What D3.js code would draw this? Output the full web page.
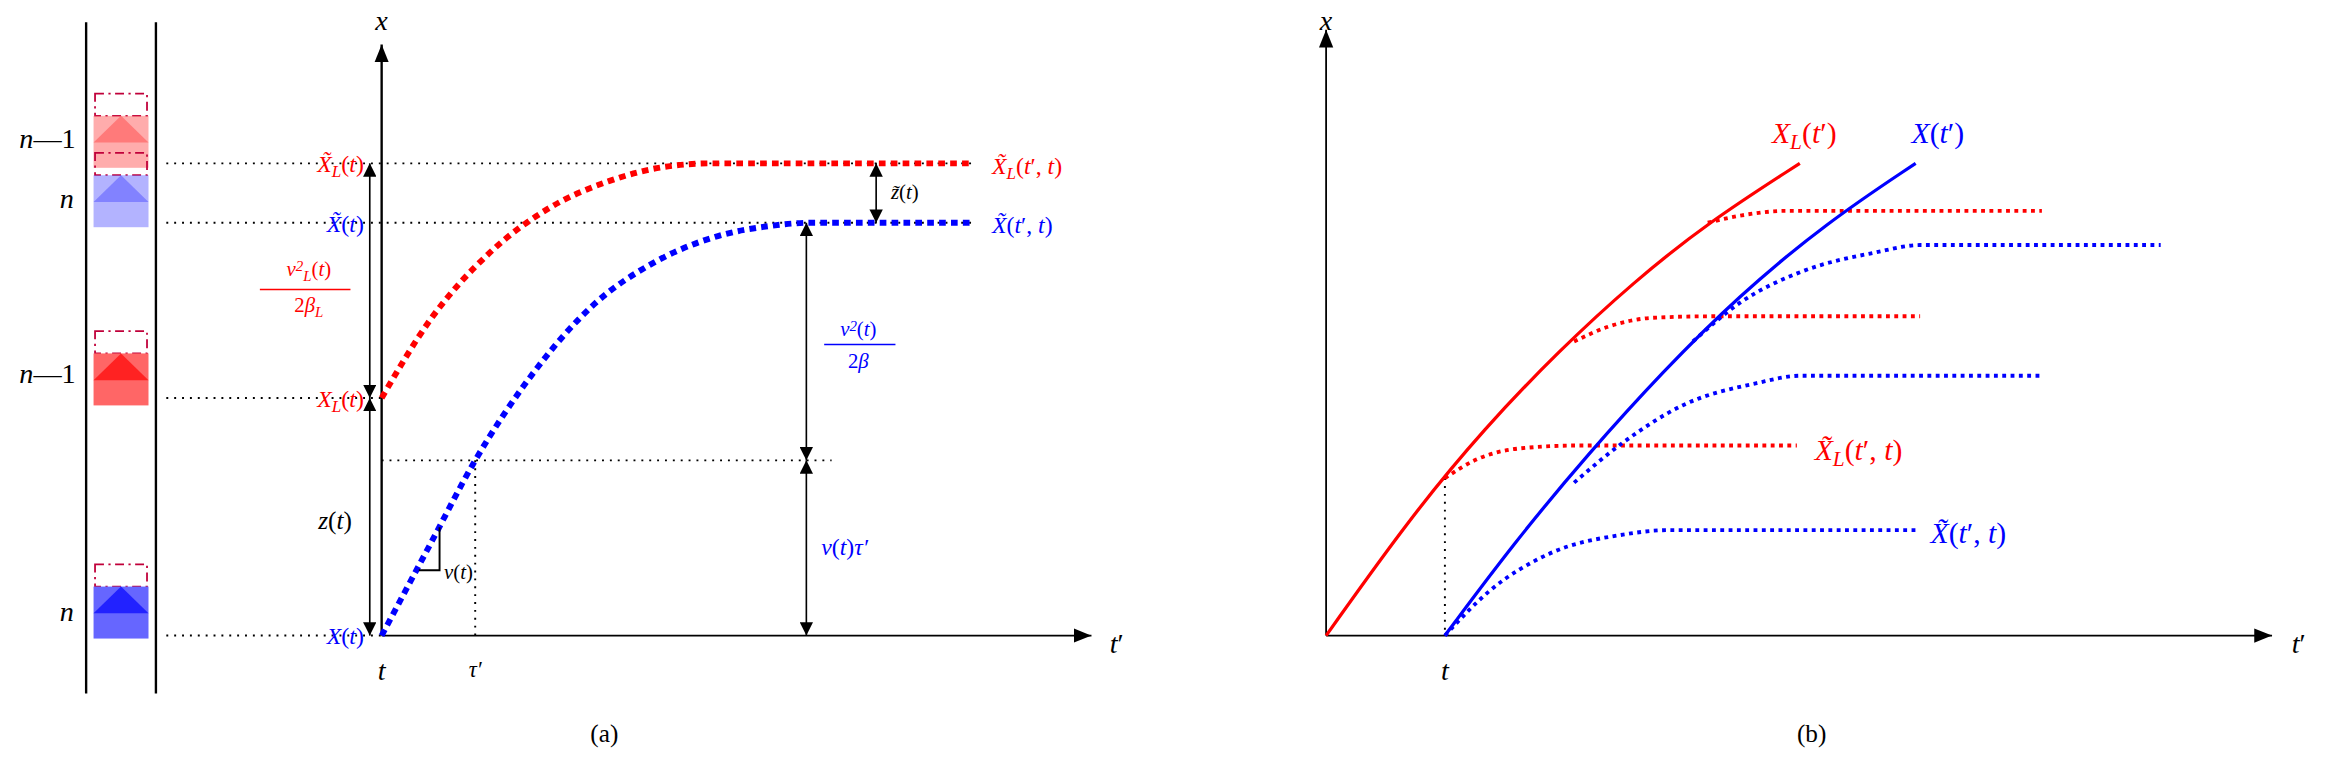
<!DOCTYPE html>
<html><head><meta charset="utf-8">
<script src="https://cdn.jsdelivr.net/npm/d3@7"></script>
<style>body{margin:0;background:#fff}</style>
</head><body><div id="chart"></div>
<script>
// panel (a): t' offsets and x offsets
const blueT = [0, 33, 63, 103, 143, 183, 223, 263, 288, 398];
const blueX = [0, 62, 118, 178, 223, 251, 268, 276, 278, 278];
const redT = [0, 33, 73, 113, 153, 193, 223, 398];
const redX = [160, 213, 258, 288, 306, 316, 318, 318];
const levels = { X: 0, tangent: 118, XL: 160, Xt: 278, XLt: 318 };
const tauT = 63;

// panel (b)
const redSolidT = [0, 57, 107, 157, 207, 257, 319];
const redSolidX = [0, 80, 140, 192, 238, 278, 318];
const blueSolidT = [80, 127, 177, 227, 277, 337, 397];
const blueSolidX = [0, 63, 123, 178, 228, 278, 318];
const redBranches = [
  { t: [80, 100, 130, 170, 317], x: [106, 118, 126, 128, 128] },
  { t: [167, 190, 220, 260, 400], x: [198, 208, 214, 215, 215] },
  { t: [257, 280, 310, 350, 482], x: [278, 283, 286, 286, 286] }
];
const blueBranches = [
  { t: [80, 110, 150, 200, 230, 397], x: [0, 30, 55, 68, 71, 71] },
  { t: [167, 200, 240, 290, 320, 482], x: [103, 130, 155, 170, 175, 175] },
  { t: [247, 280, 320, 370, 400, 562], x: [198, 225, 245, 258, 263, 263] }
];

const RED = '#ff0000', BLUE = '#0000ff';
const FONT = "'Liberation Serif', 'DejaVu Serif', serif";
const svg = d3.select('#chart').append('svg').attr('width', 2326).attr('height', 766);
const defs = svg.append('defs');
defs.append('marker').attr('id', 'arr').attr('viewBox', '0 0 10 10').attr('refX', 10).attr('refY', 5)
  .attr('markerWidth', 9).attr('markerHeight', 9).attr('markerUnits', 'userSpaceOnUse').attr('orient', 'auto-start-reverse')
  .append('path').attr('d', 'M0,0L10,5L0,10z').attr('fill', '#000');
defs.append('marker').attr('id', 'arrB').attr('viewBox', '0 0 10 10').attr('refX', 10).attr('refY', 5)
  .attr('markerWidth', 12).attr('markerHeight', 12).attr('markerUnits', 'userSpaceOnUse').attr('orient', 'auto')
  .append('path').attr('d', 'M0,1L10,5L0,9z').attr('fill', '#000');

const g = svg.append('g').attr('transform', 'scale(1.485)');

function txt(x, y, parts, color, size, anchor) {
  const t = g.append('text').attr('x', x).attr('y', y).attr('fill', color || '#000')
    .style('font-family', FONT)
    .attr('font-size', size || 17).attr('text-anchor', anchor || 'middle').attr('font-style', 'italic');
  parts.forEach(p => {
    const s = t.append('tspan').text(p[0]);
    if (p[1] === 'sub') s.attr('baseline-shift', '-30%').attr('font-size', (size || 17) * 0.72);
    if (p[1] === 'sup') s.attr('baseline-shift', '35%').attr('font-size', (size || 17) * 0.72);
    if (p[1] === 'up') s.attr('font-style', 'normal');
  });
  return t;
}
function dotted(x1, y1, x2, y2) {
  g.append('line').attr('x1', x1).attr('y1', y1).attr('x2', x2).attr('y2', y2)
    .attr('stroke', '#000').attr('stroke-width', 1.3).attr('stroke-dasharray', '1.3,4');
}
function dbl(x, y1, y2) {
  g.append('line').attr('x1', x).attr('y1', y1).attr('x2', x).attr('y2', y2).attr('stroke', '#000').attr('stroke-width', 1.1)
    .attr('marker-start', 'url(#arr)').attr('marker-end', 'url(#arr)');
}

// ---------- panel (a) ----------
const ta = d3.scaleLinear().domain([0, 478]).range([257, 735]);
const xa = d3.scaleLinear().domain([0, 398]).range([428, 30]);
const line = (T, X, sx, sy, c) => d3.line().curve(c || d3.curveMonotoneX).x((d, i) => sx(T[i])).y((d, i) => sy(X[i]))(T);

// lane and cars
g.append('line').attr('x1', 58).attr('x2', 58).attr('y1', 15).attr('y2', 467).attr('stroke', '#000').attr('stroke-width', 1.6);
g.append('line').attr('x1', 105).attr('x2', 105).attr('y1', 15).attr('y2', 467).attr('stroke', '#000').attr('stroke-width', 1.6);
function car(yTop, fill, tri, op) {
  const x0 = 63, w = 37, h = 35;
  g.append('rect').attr('x', x0 + 1).attr('y', yTop - 15).attr('width', w - 2).attr('height', 15)
    .attr('fill', 'none').attr('stroke', '#c0003a').attr('stroke-width', 1.2).attr('stroke-dasharray', '6,3,1.5,3');
  g.append('rect').attr('x', x0).attr('y', yTop).attr('width', w).attr('height', h).attr('fill', fill).attr('opacity', op);
  g.append('path').attr('d', `M${x0},${yTop + 18}L${x0 + w / 2},${yTop}L${x0 + w},${yTop + 18}Z`).attr('fill', tri).attr('opacity', op);
}
car(395, '#6666ff', '#2222ff', 1);
car(238, '#ff6666', '#ff2222', 1);
car(78, '#ff8080', '#ff6060', 0.65);
car(118, '#8080ff', '#6060ff', 0.6);
txt(32, 100, [['n'], ['—1', 'up']], '#000', 19);
txt(45, 140, [['n']], '#000', 19);
txt(32, 258, [['n'], ['—1', 'up']], '#000', 19);
txt(45, 418, [['n']], '#000', 19);

// horizontal dotted guide lines
dotted(112, xa(levels.XLt), ta(398), xa(levels.XLt));
dotted(112, xa(levels.Xt), ta(398), xa(levels.Xt));
dotted(112, xa(levels.XL), ta(0), xa(levels.XL));
dotted(112, xa(levels.X), ta(0), xa(levels.X));
dotted(ta(0), xa(levels.tangent), ta(303), xa(levels.tangent));
dotted(ta(tauT), xa(levels.tangent), ta(tauT), xa(levels.X));

// axes
g.append('line').attr('x1', ta(0)).attr('y1', xa(0)).attr('x2', ta(478)).attr('y2', xa(0)).attr('stroke', '#000').attr('stroke-width', 1.2).attr('marker-end', 'url(#arrB)');
g.append('line').attr('x1', ta(0)).attr('y1', xa(0)).attr('x2', ta(0)).attr('y2', xa(398)).attr('stroke', '#000').attr('stroke-width', 1.6).attr('marker-end', 'url(#arrB)');
txt(ta(0), 20, [['x']], '#000', 19);
txt(752, 440, [['t'], ['′', 'up']], '#000', 19);
txt(ta(0), 458, [['t']], '#000', 19);
txt(ta(tauT), 456, [['τ′']], '#000', 15);

// trajectories
g.append('path').attr('d', line(blueT, blueX, ta, xa)).attr('fill', 'none').attr('stroke', BLUE).attr('stroke-width', 4).attr('stroke-dasharray', '4.5,3.5');
g.append('path').attr('d', line(redT, redX, ta, xa)).attr('fill', 'none').attr('stroke', RED).attr('stroke-width', 4).attr('stroke-dasharray', '4.5,3.5');

// slope triangle
g.append('path').attr('d', `M${ta(25)},${xa(44)}H${ta(39)}V${xa(73)}`).attr('fill', 'none').attr('stroke', '#000').attr('stroke-width', 1.3);
txt(ta(42), 390, [['v'], ['(', 'up'], ['t'], [')', 'up']], '#000', 14, 'start');

// measurement arrows
dbl(ta(-8), xa(levels.XL), xa(levels.X));
dbl(ta(-8), xa(levels.XL), xa(levels.XLt));
dbl(ta(286), xa(levels.tangent), xa(levels.X));
dbl(ta(286), xa(levels.tangent), xa(levels.Xt));
dbl(ta(333), xa(levels.XLt), xa(levels.Xt));

// labels (a)
txt(245, 116, [['X̃'], ['L', 'sub'], ['(', 'up'], ['t'], [')', 'up']], RED, 16, 'end');
txt(245, 156, [['X̃'], ['(', 'up'], ['t'], [')', 'up']], BLUE, 16, 'end');
txt(245, 274, [['X'], ['L', 'sub'], ['(', 'up'], ['t'], [')', 'up']], RED, 16, 'end');
txt(245, 434, [['X'], ['(', 'up'], ['t'], [')', 'up']], BLUE, 16, 'end');
txt(237, 356, [['z'], ['(', 'up'], ['t'], [')', 'up']], '#000', 17, 'end');
txt(208, 186, [['v'], ['2', 'sup'], ['L', 'sub'], ['(', 'up'], ['t'], [')', 'up']], RED, 14);
g.append('line').attr('x1', 175).attr('x2', 236).attr('y1', 195).attr('y2', 195).attr('stroke', RED).attr('stroke-width', 1);
txt(208, 210, [['2', 'up'], ['β'], ['L', 'sub']], RED, 14);
txt(578, 226, [['v'], ['2', 'sup'], ['(', 'up'], ['t'], [')', 'up']], BLUE, 14);
g.append('line').attr('x1', 555).attr('x2', 603).attr('y1', 232).attr('y2', 232).attr('stroke', BLUE).attr('stroke-width', 1);
txt(578, 248, [['2', 'up'], ['β']], BLUE, 14);
txt(553, 374, [['v'], ['(', 'up'], ['t'], [')', 'up'], ['τ′']], BLUE, 16, 'start');
txt(600, 134, [['z̃'], ['(', 'up'], ['t'], [')', 'up']], '#000', 14, 'start');
txt(668, 117, [['X̃'], ['L', 'sub'], ['(', 'up'], ['t'], ['′, ', 'up'], ['t'], [')', 'up']], RED, 16, 'start');
txt(668, 157, [['X̃'], ['(', 'up'], ['t'], ['′, ', 'up'], ['t'], [')', 'up']], BLUE, 16, 'start');
g.append('text').attr('x', 407).attr('y', 500).attr('text-anchor', 'middle').attr('font-size', 17).style('font-family', FONT).text('(a)');

// ---------- panel (b) ----------
const tb = d3.scaleLinear().domain([0, 637]).range([893, 1530]);
const xb = d3.scaleLinear().domain([0, 408]).range([428, 20]);
dotted(tb(80), xb(106), tb(80), xb(0));
g.append('line').attr('x1', tb(0)).attr('y1', xb(0)).attr('x2', tb(637)).attr('y2', xb(0)).attr('stroke', '#000').attr('stroke-width', 1.2).attr('marker-end', 'url(#arrB)');
g.append('line').attr('x1', tb(0)).attr('y1', xb(0)).attr('x2', tb(0)).attr('y2', xb(408)).attr('stroke', '#000').attr('stroke-width', 1.2).attr('marker-end', 'url(#arrB)');
redBranches.forEach(b => g.append('path').attr('d', line(b.t, b.x, tb, xb)).attr('fill', 'none').attr('stroke', RED).attr('stroke-width', 2.6).attr('stroke-dasharray', '2.6,3'));
blueBranches.forEach(b => g.append('path').attr('d', line(b.t, b.x, tb, xb)).attr('fill', 'none').attr('stroke', BLUE).attr('stroke-width', 2.6).attr('stroke-dasharray', '2.6,3'));
g.append('path').attr('d', line(redSolidT, redSolidX, tb, xb, d3.curveBasis)).attr('fill', 'none').attr('stroke', RED).attr('stroke-width', 2.2);
g.append('path').attr('d', line(blueSolidT, blueSolidX, tb, xb, d3.curveBasis)).attr('fill', 'none').attr('stroke', BLUE).attr('stroke-width', 2.2);
txt(tb(0), 20, [['x']], '#000', 19);
txt(1548, 440, [['t'], ['′', 'up']], '#000', 19);
txt(tb(80), 458, [['t']], '#000', 19);
txt(1215, 96, [['X'], ['L', 'sub'], ['(', 'up'], ['t'], ['′)', 'up']], RED, 20);
txt(1305, 96, [['X'], ['(', 'up'], ['t'], ['′)', 'up']], BLUE, 20);
txt(1222, 310, [['X̃'], ['L', 'sub'], ['(', 'up'], ['t'], ['′, ', 'up'], ['t'], [')', 'up']], RED, 20, 'start');
txt(1300, 366, [['X̃'], ['(', 'up'], ['t'], ['′, ', 'up'], ['t'], [')', 'up']], BLUE, 20, 'start');
g.append('text').attr('x', 1220).attr('y', 500).attr('text-anchor', 'middle').attr('font-size', 17).style('font-family', FONT).text('(b)');
</script></body></html>
